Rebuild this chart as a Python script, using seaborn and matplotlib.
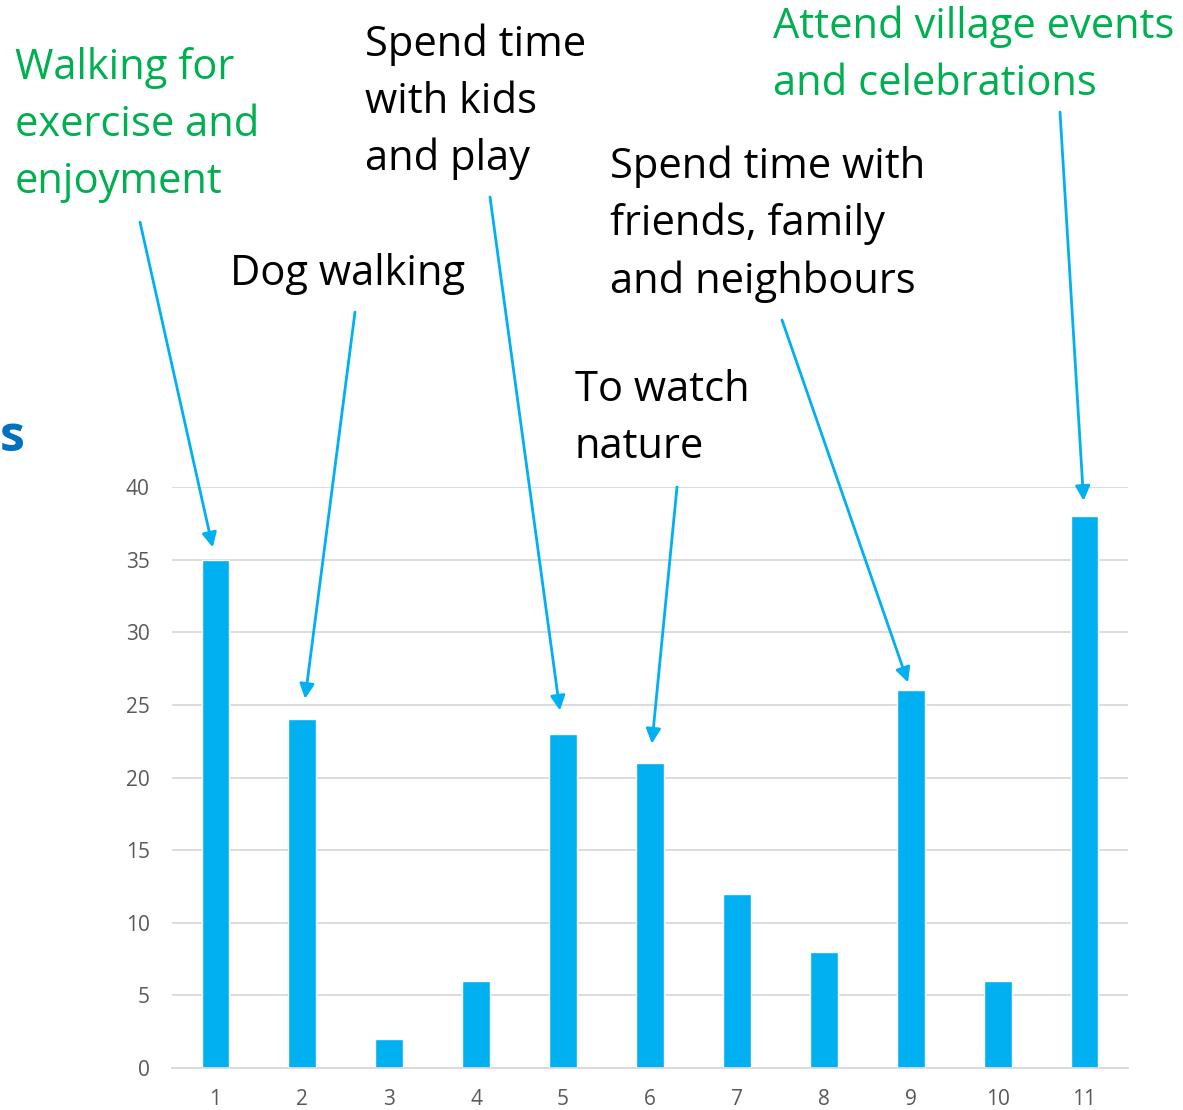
import pandas as pd
import numpy as np
import matplotlib.pyplot as plt
import seaborn as sns

# data
categories = ['1', '2', '3', '4', '5', '6', '7', '8', '9', '10', '11']
counts = [35, 24, 2, 6, 23, 21, 12, 8, 26, 6, 38]

# labelled bars
label_texts = ['Walking for\nexercise and\nenjoyment',
               'Dog walking',
               'Spend time\nwith kids\nand play',
               'To watch\nnature',
               'Spend time with\nfriends, family\nand neighbours',
               'Attend village events\nand celebrations']
label_bars = ['1', '2', '5', '6', '9', '11']
label_colors = ['#00B050', 'black', 'black', 'black', 'black', '#00B050']

# layout (figure pixels, from top-left): text top-left, arrow start, gap to bar
text_pos = [(15, 47), (230, 253), (365, 23), (575, 369), (610, 145), (773, 5)]
arrow_start = [(140, 222), (355, 312), (490, 197), (677, 487), (782, 320), (1060, 112)]
arrow_gap = [9, 15, 17, 14, 6, 11]

df = pd.DataFrame({'cat': categories, 'count': counts})

sns.set_style('white')
plt.rcParams['font.family'] = ['Open Sans', 'DejaVu Sans']

W, H = 1183, 1110
fig = plt.figure(figsize=(W / 100, H / 100), dpi=100)
ax = fig.add_axes([172 / W, 42 / H, (1128 - 172) / W, (1068 - 487) / H])

bar_color = '#00B0F0'
sns.barplot(data=df, x='cat', y='count', order=categories, color=bar_color,
            width=0.32, saturation=1, ax=ax)

ax.set_xlim(-0.5, len(categories) - 0.5)
ax.set_ylim(0, 40)
ax.set_yticks(range(0, 41, 5))
ax.yaxis.grid(True, color='#D9D9D9', lw=1.3)
ax.set_axisbelow(True)
for s in ['top', 'right', 'left']:
    ax.spines[s].set_visible(False)
ax.spines['bottom'].set_color('#D9D9D9')
ax.spines['bottom'].set_linewidth(1.3)
ax.tick_params(axis='both', length=0, labelsize=15, labelcolor='#595959')
ax.tick_params(axis='y', pad=16)
ax.tick_params(axis='x', pad=15)
ax.set_xlabel('')
ax.set_ylabel('')

# tail of the title, at the left edge
fig.text(0.0, 1 - 438 / H, 's', color='#0070C0', fontsize=36, fontweight='bold',
         va='center', ha='left')

for txt, bar, col, tp, st, gap in zip(label_texts, label_bars, label_colors,
                                       text_pos, arrow_start, arrow_gap):
    fig.text(tp[0] / W, 1 - tp[1] / H, txt, color=col, fontsize=30,
             va='top', ha='left', linespacing=1.47)
    i = categories.index(bar)
    ax.annotate('', xy=(i, counts[i]), xycoords='data',
                xytext=(st[0], H - st[1]), textcoords='figure pixels',
                arrowprops=dict(arrowstyle='-|>', color=bar_color, lw=2,
                                mutation_scale=22, shrinkA=0, shrinkB=gap))

fig.savefig('out.png', dpi=100)
